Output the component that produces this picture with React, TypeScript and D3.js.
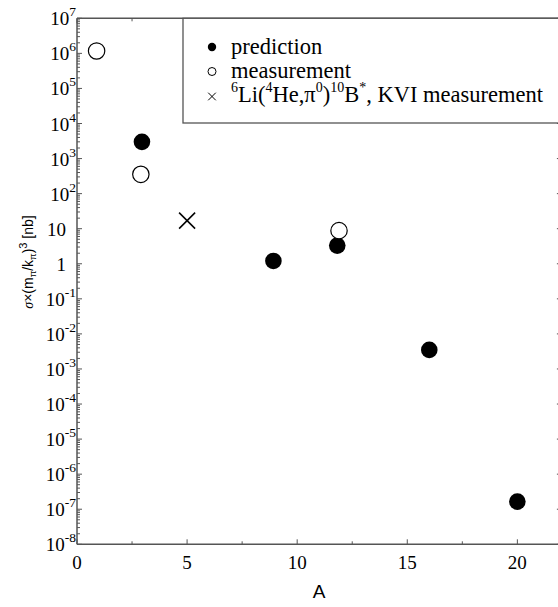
import React from "react";
import * as d3 from "d3";

const predA = [2.95, 8.92, 11.82, 16.0, 20.0];
const predV = [3.0e3, 1.2, 3.3, 3.5e-3, 1.65e-7];
const measA = [0.89, 2.9, 11.9];
const measV = [1.17e6, 3.55e2, 8.8];
const kviA = [5.0];
const kviV = [17];
const xTicks = [0, 5, 10, 15, 20];
const xMinor = [2.5, 7.5, 12.5, 17.5];
const yExps = [-8, -7, -6, -5, -4, -3, -2, -1, 0, 1, 2, 3, 4, 5, 6, 7];

const W = 558, H = 607;
const L = 77, R = 561.4, T = 18.3, B = 544.3;
const axisColor = "#555";
const serif = "'Liberation Serif', 'Times New Roman', serif";
const sans = "'Liberation Sans', Arial, sans-serif";

export default function App() {
  const x = d3.scaleLinear().domain([0, 22]).range([L, R]);
  const y = d3.scaleLog().domain([1e-8, 1e7]).range([B, T]);

  const minorY: number[] = [];
  for (let e = -8; e < 7; e++) for (let m = 2; m <= 9; m++) minorY.push(m * Math.pow(10, e));

  const yLabel = (e: number) => {
    if (e === 0) return <tspan>1</tspan>;
    if (e === 1) return <tspan>10</tspan>;
    return (
      <>
        <tspan>10</tspan>
        <tspan dy={-9} fontSize={13.5}>{e}</tspan>
      </>
    );
  };

  const cross = (cx: number, cy: number, s: number, sw: number, key?: any) => (
    <g key={key} stroke="#000" strokeWidth={sw}>
      <line x1={cx - s} y1={cy - s} x2={cx + s} y2={cy + s} />
      <line x1={cx - s} y1={cy + s} x2={cx + s} y2={cy - s} />
    </g>
  );

  const legX = 212;
  const legTX = 231;

  return (
    <svg width={W} height={H} style={{ position: "absolute", left: 0, top: 0, background: "#fff" }}>
      {/* axes frame */}
      <g stroke={axisColor} strokeWidth={1.5} fill="none">
        <line x1={L} y1={B} x2={R} y2={B} />
        <line x1={L} y1={T} x2={L} y2={B} />
        <line x1={L} y1={T} x2={R} y2={T} />
        <line x1={R} y1={T} x2={R} y2={B} />
      </g>
      {/* ticks */}
      <g stroke={axisColor} strokeWidth={1}>
        {yExps.map((e) => (
          <g key={"ym" + e}>
            <line x1={L} x2={L + 5} y1={y(Math.pow(10, e))} y2={y(Math.pow(10, e))} />
            <line x1={R} x2={R - 4.5} y1={y(Math.pow(10, e))} y2={y(Math.pow(10, e))} />
          </g>
        ))}
        {minorY.map((v, i) => (
          <line key={"yn" + i} x1={L} x2={L + 3} y1={y(v)} y2={y(v)} />
        ))}
        {xTicks.map((t) => (
          <g key={"xt" + t}>
            <line x1={x(t)} x2={x(t)} y1={B} y2={B - 5} />
            <line x1={x(t)} x2={x(t)} y1={T} y2={T + 5} />
          </g>
        ))}
        {xMinor.map((t) => (
          <g key={"xm" + t}>
            <line x1={x(t)} x2={x(t)} y1={B} y2={B - 3} />
            <line x1={x(t)} x2={x(t)} y1={T} y2={T + 3} />
          </g>
        ))}
      </g>
      {/* y tick labels */}
      <g fontFamily={serif} fontSize={19} fill="#000">
        {yExps.map((e) => (
          <text
            key={"yl" + e}
            x={e === 0 || e === 1 ? 66 : 76}
            y={y(Math.pow(10, e)) + 7}
            textAnchor="end"
          >
            {yLabel(e)}
          </text>
        ))}
      </g>
      {/* x tick labels */}
      <g fontFamily={serif} fontSize={19} fill="#000" textAnchor="middle">
        {xTicks.map((t) => (
          <text key={"xl" + t} x={x(t)} y={569}>
            {t}
          </text>
        ))}
      </g>
      {/* axis titles */}
      <text x={(L + 557) / 2 + 2} y={598} fontFamily={sans} fontSize={19} textAnchor="middle">
        A
      </text>
      <text
        transform={`translate(33,262) rotate(-90)`}
        fontFamily={sans}
        fontSize={14}
        textAnchor="middle"
      >
        <tspan fontFamily={serif} fontStyle="italic">σ</tspan>
        <tspan>×(m</tspan>
        <tspan dy={3} fontSize={9.5}>π</tspan>
        <tspan dy={-3}>/k</tspan>
        <tspan dy={3} fontSize={9.5}>π</tspan>
        <tspan dy={-3}>)</tspan>
        <tspan dy={-6} fontSize={11}>3</tspan>
        <tspan dy={6}> [nb]</tspan>
      </text>
      {/* legend */}
      <rect x={183} y={T} width={376} height={123 - T} fill="#fff" stroke={axisColor} strokeWidth={1.3} />
      <circle cx={legX} cy={47} r={4.2} fill="#000" />
      <circle cx={legX} cy={71.5} r={4} fill="none" stroke="#000" strokeWidth={1} />
      {cross(legX, 96.5, 3.8, 1)}
      <g fontFamily={serif} fontSize={22.5} fill="#000">
        <text x={legTX} y={54}>prediction</text>
        <text x={legTX} y={77.5}>measurement</text>
        <text x={legTX} y={101.5}>
          <tspan dy={-10} fontSize={14}>6</tspan>
          <tspan dy={10}>Li(</tspan>
          <tspan dy={-10} fontSize={14}>4</tspan>
          <tspan dy={10}>He,π</tspan>
          <tspan dy={-10} fontSize={14}>0</tspan>
          <tspan dy={10}>)</tspan>
          <tspan dy={-10} fontSize={14}>10</tspan>
          <tspan dy={10}>B</tspan>
          <tspan dy={-10} fontSize={14}>*</tspan>
          <tspan dy={10}>, KVI measurement</tspan>
        </text>
      </g>
      {/* data */}
      {predA.map((a, i) => (
        <circle key={"p" + i} cx={x(a)} cy={y(predV[i])} r={8.3} fill="#000" />
      ))}
      {measA.map((a, i) => (
        <circle key={"m" + i} cx={x(a)} cy={y(measV[i])} r={8.2} fill="#fff" stroke="#000" strokeWidth={1.2} />
      ))}
      {kviA.map((a, i) => cross(x(a), y(kviV[i]), 8, 1.5, "k" + i))}
    </svg>
  );
}
